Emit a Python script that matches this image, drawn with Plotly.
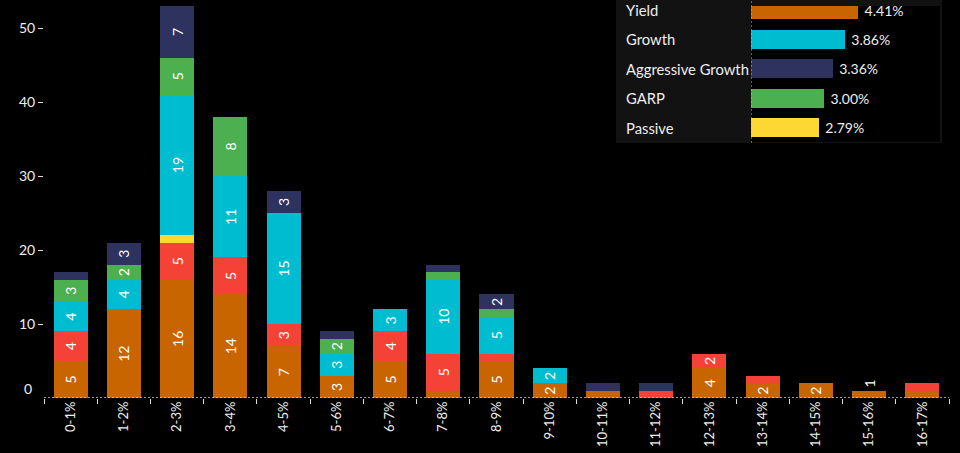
import plotly.graph_objects as go

# ---------------- data ----------------
categories = ["0-1%", "1-2%", "2-3%", "3-4%", "4-5%", "5-6%", "6-7%", "7-8%", "8-9%",
              "9-10%", "10-11%", "11-12%", "12-13%", "13-14%", "14-15%", "15-16%", "16-17%"]

yield_counts      = [5, 12, 16, 14, 7, 3, 5, 1, 5, 2, 1, 0, 4, 2, 2, 1, 1]
other_counts      = [4, 0, 5, 5, 3, 0, 4, 5, 1, 0, 0, 1, 2, 1, 0, 0, 1]
passive_counts    = [0, 0, 1, 0, 0, 0, 0, 0, 0, 0, 0, 0, 0, 0, 0, 0, 0]
growth_counts     = [4, 4, 19, 11, 15, 3, 3, 10, 5, 2, 0, 0, 0, 0, 0, 0, 0]
garp_counts       = [3, 2, 5, 8, 0, 2, 0, 1, 1, 0, 0, 0, 0, 0, 0, 0, 0]
aggressive_counts = [1, 3, 7, 0, 3, 1, 0, 1, 2, 0, 1, 1, 0, 0, 0, 0, 0]

inset_styles = ["Yield", "Growth", "Aggressive Growth", "GARP", "Passive"]
inset_values = [4.41, 3.86, 3.36, 3.00, 2.79]

# ---------------- styling ----------------
FONT = "Lato"
TXT = "#eeeeee"
colors = {
    "Yield": "#c96500",
    "Other": "#f44336",
    "Passive": "#fdd835",
    "Growth": "#00bcd0",
    "GARP": "#4caf50",
    "Aggressive Growth": "#2d325f",
}

stack = [
    ("Yield", yield_counts),
    ("Other", other_counts),
    ("Passive", passive_counts),
    ("Growth", growth_counts),
    ("GARP", garp_counts),
    ("Aggressive Growth", aggressive_counts),
]

# number of non-empty segments per bar
seg_count = [sum(1 for _, s in stack if s[i] > 0) for i in range(len(categories))]

fig = go.Figure()
for name, series in stack:
    vals = [v if v > 0 else None for v in series]
    texts, positions = [], []
    for i, v in enumerate(series):
        if v >= 2:
            texts.append(str(v)); positions.append("inside")
        elif v > 0 and seg_count[i] == 1:
            texts.append(str(v)); positions.append("outside")
        else:
            texts.append(""); positions.append("inside")
    fig.add_trace(go.Bar(
        x=categories, y=vals, name=name,
        marker=dict(color=colors[name], line=dict(width=0)),
        text=texts, textposition=positions, textangle=-90,
        insidetextanchor="middle",
        insidetextfont=dict(family=FONT, size=14, color="#ffffff"),
        outsidetextfont=dict(family=FONT, size=14, color="#ffffff"),
        cliponaxis=False, showlegend=False, hoverinfo="x+y+name",
    ))

# inset horizontal bar chart
fig.add_trace(go.Bar(
    x=inset_values, y=inset_styles, orientation="h",
    xaxis="x2", yaxis="y2",
    marker=dict(color=[colors[s] for s in inset_styles], line=dict(width=0)),
    text=[f" {v:.2f}%" for v in inset_values], textposition="outside", textangle=0,
    outsidetextfont=dict(family=FONT, size=14, color=TXT),
    cliponaxis=False, showlegend=False,
))

# geometry
L, R, T, B = 44, 11, 6, 55
W, H = 960, 453
pw, ph = W - L - R, H - T - B

def px_x(p):
    return (p - L) / pw

def px_y(p):
    return (H - B - p) / ph

inset_x0 = px_x(751)
inset_x1 = px_x(940)
inset_range_max = (940 - 751) / 24.27

annotations = [
    dict(text=s, x=px_x(624), xref="paper", xanchor="left", y=s, yref="y2",
         showarrow=False, font=dict(family=FONT, size=14.8, color=TXT))
    for s in inset_styles
]
annotations.append(dict(text="0", x=px_x(34), xref="paper", xanchor="right",
                        y=0, yref="y", yshift=10, showarrow=False,
                        font=dict(family=FONT, size=14, color=TXT)))

shapes = [
    dict(type="rect", xref="paper", yref="paper", x0=px_x(616), x1=px_x(942),
         y0=px_y(143), y1=px_y(0), fillcolor="#121212", line=dict(width=0), layer="below"),
    dict(type="line", xref="x2", yref="paper", x0=0, x1=0, y0=px_y(143), y1=px_y(0),
         line=dict(color="#bbbbbb", width=1, dash="2px,2px")),
    dict(type="line", xref="paper", yref="y", x0=0, x1=1, y0=0, y1=0,
         line=dict(color="#cccccc", width=1.5, dash="2px,2px")),
]

fig.update_layout(
    width=W, height=H,
    margin=dict(l=L, r=R, t=T, b=B, autoexpand=False),
    paper_bgcolor="#000000", plot_bgcolor="#000000",
    barmode="stack", bargap=0.36,
    font=dict(family=FONT, size=14, color=TXT),
    xaxis=dict(
        type="category", tickangle=-90, tickson="boundaries", automargin=False,
        ticks="outside", ticklen=5, tickwidth=1, tickcolor="#dddddd",
        showgrid=False, zeroline=False, showline=False,
        tickfont=dict(family=FONT, size=13, color=TXT),
    ),
    yaxis=dict(
        range=[0, 53], tickvals=[10, 20, 30, 40, 50], automargin=False,
        ticks="outside", ticklen=5, tickwidth=1, tickcolor="#dddddd",
        showgrid=False, zeroline=False, showline=False,
        tickfont=dict(family=FONT, size=14, color=TXT),
    ),
    xaxis2=dict(
        domain=[inset_x0, inset_x1], anchor="y2", range=[0, inset_range_max],
        automargin=False,
        showgrid=False, zeroline=False, showline=False, showticklabels=False, ticks="",
    ),
    yaxis2=dict(
        domain=[px_y(142), 1], anchor="x2", type="category", automargin=False,
        range=[4.49, -0.136],
        showgrid=False, zeroline=False, showline=False, showticklabels=False, ticks="",
    ),
    annotations=annotations,
    shapes=shapes,
)

fig.write_html(
    "out.html",
    config={"displayModeBar": False},
    post_script="document.body.style.margin='0px';document.body.style.background='#000';",
)
